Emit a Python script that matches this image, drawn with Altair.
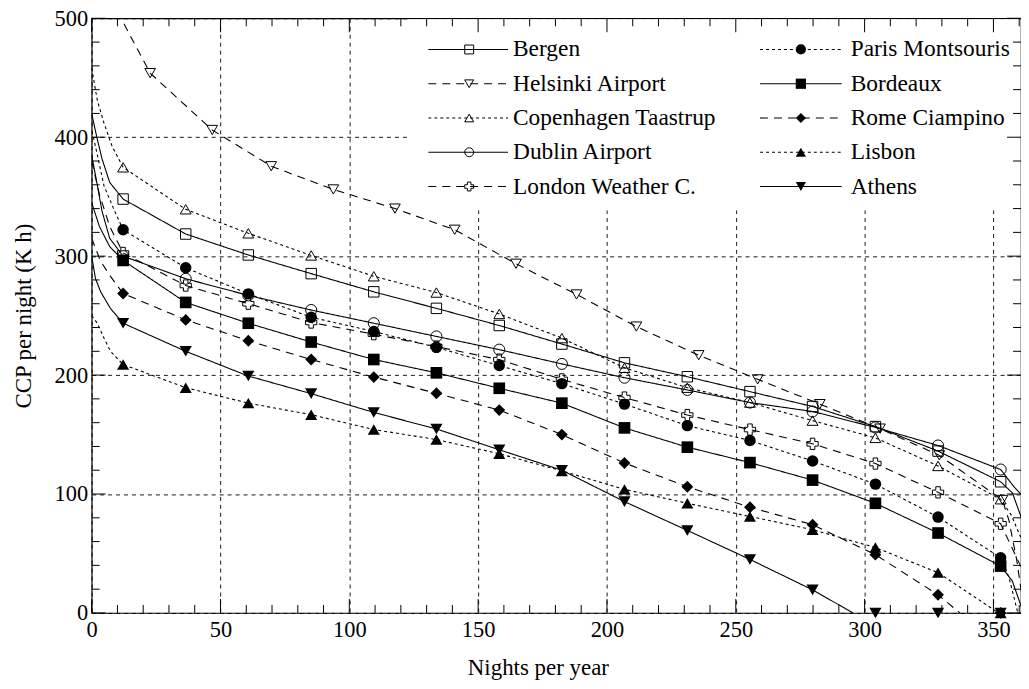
import altair as alt
import pandas as pd

FONT = "Liberation Serif, Times New Roman, Times, DejaVu Serif, serif"
W, H = 933, 597
XMAX = 360.7

names = ["Bergen", "Helsinki Airport", "Copenhagen Taastrup", "Dublin Airport",
         "London Weather C.", "Paris Montsouris", "Bordeaux", "Rome Ciampino",
         "Lisbon", "Athens"]
shapes = ["square", "triangle-down", "triangle-up", "circle", "cross",
          "circle", "square", "diamond", "triangle-up", "triangle-down"]
is_filled = [False] * 5 + [True] * 5
styles = ["solid", "dashed", "dotted", "solid", "dashed",
          "dotted", "solid", "dashed", "dotted", "solid"]
dash_of = {"solid": [1, 0], "dashed": [8, 6], "dotted": [3, 3]}
msizes = [110, 150, 150, 120, 100, 130, 130, 110, 150, 150]

# marker positions (nights per year)
mark_x = [12.2, 36.5, 60.8, 85.2, 109.5, 133.8, 158.2, 182.5, 206.8, 231.2,
          255.5, 279.8, 304.2, 328.5, 352.8]
hel_mark_x = [22.7, 46.8, 69.7, 93.8, 117.7, 140.9, 164.7, 188.2, 211.4, 235.6,
              258.5, 282.6, 306.0, 329.0, 353.5]

# marker values (K h)
bergen = [348, 318.6, 301, 285.3, 270, 256.1, 241.7, 226.1, 210.3, 198.6, 186.1, 173.6, 156.7, 136.1, 110.3]
helsinki = [453.9, 406.1, 375.6, 356.1, 340, 322.2, 293.6, 267.8, 240.8, 216.7, 196.4, 175.6, 155, 132.5, 95]
copenhagen = [374.7, 339.4, 319.2, 300.6, 283.1, 269.4, 251.4, 231.1, 206.1, 189.4, 176.9, 161.7, 147.2, 123.6, 95.6]
dublin = [300, 281, 267, 254.7, 243.6, 232.5, 221.4, 209.4, 197.8, 187.5, 176.9, 169.4, 156, 140.8, 120.6]
london = [302.7, 275.3, 260, 244.2, 234.4, 224, 213, 196.4, 181.1, 166.4, 154.2, 142.2, 125.6, 101.4, 75]
paris = [322.2, 290.2, 268.3, 248.6, 236.7, 223.3, 208, 192.8, 175.6, 157.5, 145, 127.8, 108.3, 80.6, 46.4]
bordeaux = [296.4, 261.1, 243.6, 227.8, 213.1, 201.9, 188.9, 176.4, 155.6, 139.4, 126.4, 111.7, 92.2, 67.2, 39.4]
rome = [268.6, 246.4, 228.9, 213.1, 198.3, 184.7, 170.6, 150, 126.1, 106.1, 88.9, 74.2, 49, 15.3, 0]
lisbon = [208.9, 189.4, 176.4, 166.7, 154.2, 145.8, 133.9, 119.4, 103.9, 92.2, 81.1, 70, 55, 33.9, 0]
athens = [243.6, 220, 199.2, 184.4, 168.6, 154.7, 137.2, 120, 93.6, 69.4, 45, 19.4, 0, 0, 0]
marker_vals = [bergen, helsinki, copenhagen, dublin, london, paris, bordeaux, rome, lisbon, athens]

# curve starts (x, y) and ends (x, y)
head_x = [[0, 2, 4, 7], [0, 11.4], [0, 2.2, 4.8, 8], [0, 2, 4, 7], [0, 3, 7],
          [0, 1, 4.8, 8.7], [0, 3, 7], [0, 3.4, 7.3], [0, 2.2, 4.8, 7.3], [0, 1.5, 3.5, 7.3]]
head_y = [[420, 400, 382, 362], [585, 500], [458, 431, 411.7, 392], [385, 362, 338, 315], [380, 352, 325],
          [405, 397, 359, 339], [345, 325, 308], [315, 296, 283], [250, 243.6, 231, 220], [300, 281, 270, 256]]
tail_x = [[357.4, 361.5], [356, 359, 361.5], [357, 361.5], [358, 361.5], [361.5],
          [356, 359.5], [357.3, 361.5], [337], [352], [295.5]]
tail_y = [[100.8, 76], [78, 45, 8], [82, 59], [106, 98], [35],
          [30, 0], [27, 1], [0], [0], [0]]

line_rows, mark_rows = [], []
for i, n in enumerate(names):
    mx = hel_mark_x if n == "Helsinki Airport" else mark_x
    my = marker_vals[i]
    for x, y in zip(mx, my):
        mark_rows.append(dict(series=n, x=x, y=y, filled=is_filled[i]))
    pts = list(zip(head_x[i], head_y[i]))
    pts += [(x, y) for x, y in zip(mx, my) if x < tail_x[i][0]]
    pts += list(zip(tail_x[i], tail_y[i]))
    for k, (x, y) in enumerate(pts):
        line_rows.append(dict(series=n, x=x, y=y, k=k))
line_df = pd.DataFrame(line_rows)
mark_df = pd.DataFrame(mark_rows)

xs = alt.Scale(domain=[0, XMAX], nice=False, zero=False)
ys = alt.Scale(domain=[0, 500], nice=False, zero=False)
dash_scale = alt.Scale(domain=names, range=[dash_of[s] for s in styles])
shape_scale = alt.Scale(domain=names, range=shapes)
size_scale = alt.Scale(domain=names, range=msizes)

xaxis = alt.Axis(values=list(range(0, 351, 50)), grid=True, gridDash=[4, 4], gridColor="black",
                 gridWidth=0.9, gridOpacity=1, domain=False, ticks=False,
                 labelFont=FONT, labelFontSize=22.5, labelColor="black", labelPadding=6,
                 labelFlush=False, format="d",
                 title="Nights per year", titleFont=FONT, titleFontSize=23,
                 titleFontWeight="normal", titleColor="black", titleX=448, titleY=62,
                 titleAlign="center", titleBaseline="alphabetic")
yaxis = alt.Axis(values=list(range(0, 501, 100)), grid=True, gridDash=[4, 4], gridColor="black",
                 gridWidth=0.9, gridOpacity=1, domain=False, ticks=False,
                 labelFont=FONT, labelFontSize=22.5, labelColor="black", labelPadding=4,
                 format="d",
                 title="CCP per night (K h)", titleFont=FONT, titleFontSize=23,
                 titleFontWeight="normal", titleColor="black", titleAngle=270,
                 titleX=-61, titleY=H / 2, titleAlign="center", titleBaseline="alphabetic")

X = lambda f: alt.X(f, scale=xs, axis=xaxis)
Y = lambda f: alt.Y(f, scale=ys, axis=yaxis)

# legend box background
legend_bg = alt.Chart(pd.DataFrame({"a": [0]})).mark_rect(color="white", opacity=1).encode(
    x=alt.value(318), x2=alt.value(W - 1), y=alt.value(1), y2=alt.value(193))

lines = alt.Chart(line_df).mark_line(color="black", strokeWidth=1.1, clip=True).encode(
    x=X("x:Q"), y=Y("y:Q"),
    strokeDash=alt.StrokeDash("series:N", scale=dash_scale, legend=None),
    order="k:Q")

open_pts = alt.Chart(mark_df).transform_filter("!datum.filled").mark_point(
    filled=False, color="black", strokeWidth=1, opacity=1).encode(
    x=X("x:Q"), y=Y("y:Q"),
    shape=alt.Shape("series:N", scale=shape_scale, legend=None),
    size=alt.Size("series:N", scale=size_scale, legend=None))
full_pts = alt.Chart(mark_df).transform_filter("datum.filled").mark_point(
    filled=True, color="black", opacity=1).encode(
    x=X("x:Q"), y=Y("y:Q"),
    shape=alt.Shape("series:N", scale=shape_scale, legend=None),
    size=alt.Size("series:N", scale=size_scale, legend=None))

# tick marks on all four sides (inward)
x_minor = pd.DataFrame({"v": [v for v in range(0, 361, 10) if v % 50]})
x_major = pd.DataFrame({"v": [v for v in range(0, 361, 50)]})
y_minor = pd.DataFrame({"v": [v for v in range(0, 501, 20) if v % 100]})
y_major = pd.DataFrame({"v": [v for v in range(0, 501, 100)]})
tick_layers = []
for df, ln in [(x_minor, 8), (x_major, 14)]:
    tick_layers.append(alt.Chart(df).mark_rule(color="black", strokeWidth=1).encode(
        x=X("v:Q"), y=alt.value(H), y2=alt.value(H - ln)))
    tick_layers.append(alt.Chart(df).mark_rule(color="black", strokeWidth=1).encode(
        x=X("v:Q"), y=alt.value(0), y2=alt.value(ln)))
for df, ln in [(y_minor, 8), (y_major, 14)]:
    tick_layers.append(alt.Chart(df).mark_rule(color="black", strokeWidth=1).encode(
        y=Y("v:Q"), x=alt.value(0), x2=alt.value(ln)))
    tick_layers.append(alt.Chart(df).mark_rule(color="black", strokeWidth=1).encode(
        y=Y("v:Q"), x=alt.value(W), x2=alt.value(W - ln)))

# manual legend (two columns of five)
col_line_x1 = [338, 671]
col_line_x2 = [418, 753]
col_mark_x = [379, 712]
col_text_x = [423, 762]
leg_rows = []
for i, n in enumerate(names):
    c, r = i // 5, i % 5
    leg_rows.append(dict(series=n, filled=is_filled[i], lx1=col_line_x1[c], lx2=col_line_x2[c],
                         mx=col_mark_x[c], tx=col_text_x[c], ly=31.3 + r * 34.4))
leg_df = pd.DataFrame(leg_rows)

leg_lines = alt.Chart(leg_df).mark_rule(color="black", strokeWidth=1.1).encode(
    x=alt.X("lx1:Q", scale=None, axis=None), x2="lx2:Q",
    y=alt.Y("ly:Q", scale=None, axis=None),
    strokeDash=alt.StrokeDash("series:N", scale=dash_scale, legend=None))
leg_open = alt.Chart(leg_df).transform_filter("!datum.filled").mark_point(
    filled=False, color="black", strokeWidth=1, opacity=1, size=80).encode(
    x=alt.X("mx:Q", scale=None, axis=None), y=alt.Y("ly:Q", scale=None, axis=None),
    shape=alt.Shape("series:N", scale=shape_scale, legend=None))
leg_full = alt.Chart(leg_df).transform_filter("datum.filled").mark_point(
    filled=True, color="black", opacity=1, size=105).encode(
    x=alt.X("mx:Q", scale=None, axis=None), y=alt.Y("ly:Q", scale=None, axis=None),
    shape=alt.Shape("series:N", scale=shape_scale, legend=None))
leg_text = alt.Chart(leg_df).mark_text(align="left", baseline="middle", font=FONT,
                                       fontSize=23.5, color="black").encode(
    x=alt.X("tx:Q", scale=None, axis=None), y=alt.Y("ly:Q", scale=None, axis=None),
    text="series:N")

chart = alt.layer(legend_bg, lines, open_pts, full_pts, *tick_layers,
                  leg_lines, leg_open, leg_full, leg_text).properties(
    width=W, height=H,
    autosize=alt.AutoSizeParams(type="none"),
    padding={"left": 84, "top": 9, "right": 0, "bottom": 70},
    background="white",
).configure_view(stroke="black", strokeWidth=1.2)

chart.save("out.html", embed_options={"renderer": "svg", "actions": False})
